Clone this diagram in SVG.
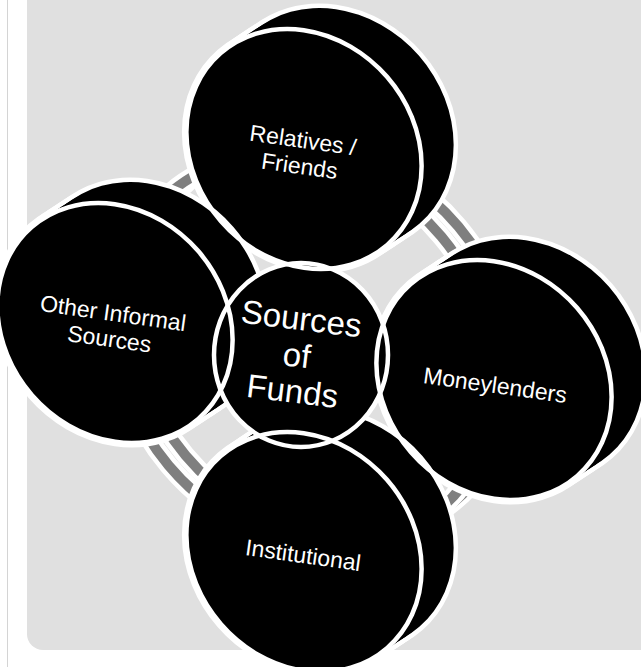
<svg xmlns="http://www.w3.org/2000/svg" xmlns:xlink="http://www.w3.org/1999/xlink" width="641" height="667" viewBox="0 0 641 667">
<style>
.hs{fill:none;stroke:#fff;stroke-width:9}
.hf{fill:#000;stroke:none}
.face{fill:none;stroke:#fff;stroke-width:4.5}
.rw{fill:none;stroke:#fff;stroke-width:19}
.rg{fill:none;stroke:#7f7f7f;stroke-width:10}
.lbl{font-family:"Liberation Sans",Arial,sans-serif;font-size:23px;fill:#fff;text-anchor:middle}
.big{font-family:"Liberation Sans",Arial,sans-serif;font-size:33px;fill:#fff;text-anchor:middle}
</style>
<defs>
<ellipse id="f" cx="0" cy="0" rx="127" ry="110" transform="rotate(49)"/>
<g id="hull">
<g class="hs">
<use href="#f"/>
<use href="#f" x="5.3" y="-3.5"/>
<use href="#f" x="10.7" y="-7"/>
<use href="#f" x="16" y="-10.5"/>
<use href="#f" x="21.3" y="-14"/>
<use href="#f" x="26.7" y="-17.5"/>
<use href="#f" x="32" y="-21"/>
</g>
<g class="hf">
<use href="#f"/>
<use href="#f" x="5.3" y="-3.5"/>
<use href="#f" x="10.7" y="-7"/>
<use href="#f" x="16" y="-10.5"/>
<use href="#f" x="21.3" y="-14"/>
<use href="#f" x="26.7" y="-17.5"/>
<use href="#f" x="32" y="-21"/>
</g>
</g>
</defs>
<rect x="0" y="0" width="641" height="667" fill="#fff"/>
<line x1="7.5" y1="0" x2="7.5" y2="667" stroke="#d4d4d4" stroke-width="1"/>
<rect x="27" y="-30" width="660" height="680" rx="16" fill="#e0e0e0"/>
<g id="connectors">
<g transform="translate(322,341) rotate(50)">
<ellipse class="rw" rx="208" ry="178"/>
<ellipse class="rg" rx="208" ry="178"/>
</g>
<g transform="translate(305,351) rotate(50)">
<ellipse class="rw" rx="208" ry="178"/>
<ellipse class="rg" rx="208" ry="178"/>
</g>
</g>
<g id="node-relatives">
<use href="#hull" transform="translate(304,149)"/>
</g>
<g id="node-other">
<use href="#hull" transform="translate(115,323)"/>
</g>
<g id="node-moneylenders">
<use href="#hull" transform="translate(494,380)"/>
</g>
<g id="node-institutional">
<use href="#hull" transform="translate(304,552)"/>
</g>
<g id="node-center">
<ellipse cx="301" cy="355" rx="87" ry="92" fill="#000"/>
</g>
<g id="outlines">
<use class="face" href="#f" transform="translate(304,149)"/>
<use class="face" href="#f" transform="translate(115,323)"/>
<use class="face" href="#f" transform="translate(494,380)"/>
<use class="face" href="#f" transform="translate(304,552)"/>
<ellipse class="face" cx="301" cy="355" rx="87" ry="92"/>
</g>
<g id="labels">
<text class="lbl" transform="translate(302,148) rotate(8)"><tspan x="0" y="0">Relatives /</tspan><tspan x="0" y="26">Friends</tspan></text>
<text class="lbl" transform="translate(112,321) rotate(8)"><tspan x="0" y="0">Other Informal</tspan><tspan x="0" y="26">Sources</tspan></text>
<text class="lbl" transform="translate(494,393) rotate(8)">Moneylenders</text>
<text class="lbl" transform="translate(302,563) rotate(8)">Institutional</text>
<text class="big" transform="translate(300,330) rotate(7)"><tspan x="0" y="0">Sources</tspan><tspan x="0" y="37">of</tspan><tspan x="0" y="73">Funds</tspan></text>
</g>
</svg>
